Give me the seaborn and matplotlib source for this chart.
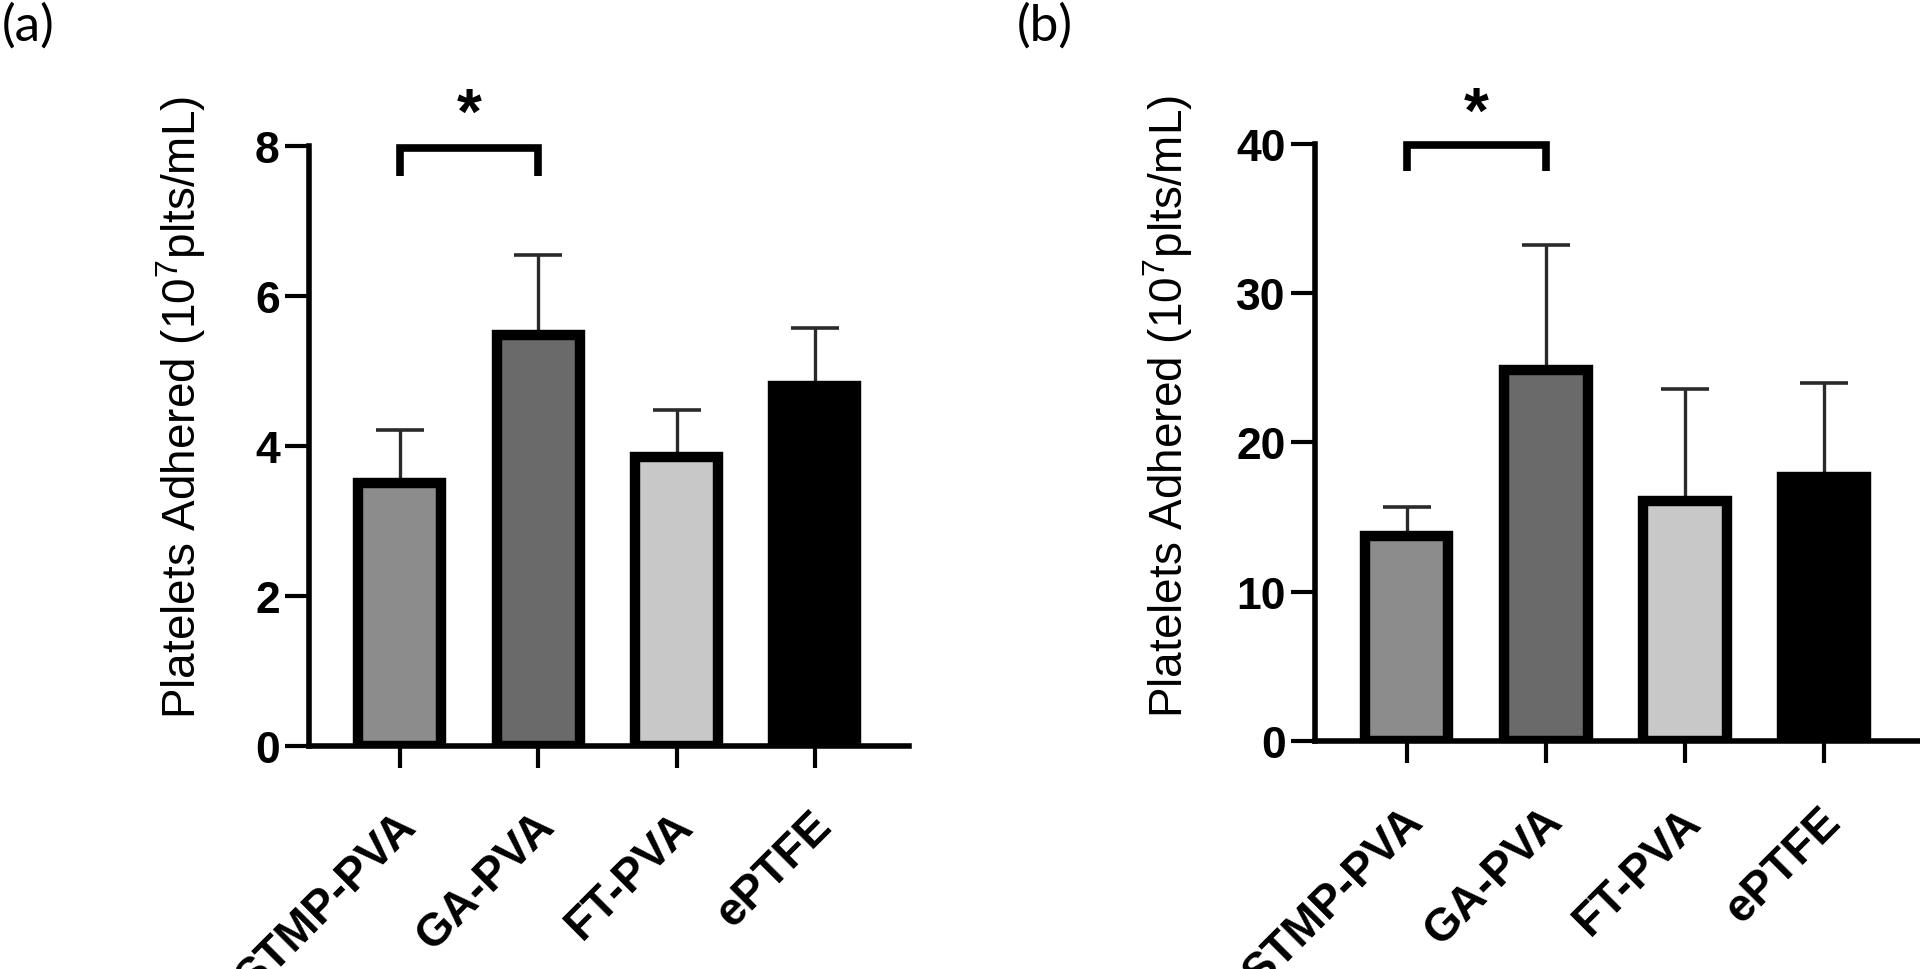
import matplotlib
matplotlib.use("Agg")
import matplotlib.pyplot as plt
import matplotlib.transforms as mtransforms
import numpy as np
import seaborn as sns

# groups and bar colours (same for both panels)
groups = ["STMP-PVA", "GA-PVA", "FT-PVA", "ePTFE"]
bar_colors = ["#8c8c8c", "#6a6a6a", "#c8c8c8", "#000000"]

# panel (a): mean and SD (upper error only)
mean_a = [3.50, 5.47, 3.85, 4.80]
sd_a = [0.71, 1.07, 0.63, 0.77]
yticks_a = [0, 2, 4, 6, 8]

# panel (b)
mean_b = [13.7, 24.85, 16.1, 17.7]
sd_b = [2.0, 8.35, 7.5, 6.3]
yticks_b = [0, 10, 20, 30, 40]

ylabel = "Platelets Adhered (10$^{7}$plts/mL)"

sns.set_style("ticks")
plt.rcParams["font.family"] = ["Liberation Sans", "DejaVu Sans"]
plt.rcParams["mathtext.fontset"] = "custom"
plt.rcParams["mathtext.rm"] = "Liberation Sans"
plt.rcParams["mathtext.it"] = "Liberation Sans:italic"
plt.rcParams["mathtext.bf"] = "Liberation Sans:bold"
plt.rcParams["text.color"] = "black"
plt.rcParams["axes.labelcolor"] = "black"
plt.rcParams["xtick.color"] = "black"
plt.rcParams["ytick.color"] = "black"

fig = plt.figure(figsize=(19.2, 9.7), dpi=100)


def draw_panel(ax, means, sds, yticks, xlim, label_xy, bracket, star_y):
    sns.barplot(x=groups, y=means, hue=groups, palette=bar_colors, width=0.6,
                edgecolor="black", linewidth=7.5, legend=False, ax=ax)
    ax.errorbar(x=np.arange(len(groups)), y=means,
                yerr=[np.zeros(len(sds)), sds], fmt="none", ecolor="#2a2a2a",
                elinewidth=2.4, capsize=17, capthick=2.6, zorder=0.5)

    ax.set_ylim(yticks[0], yticks[-1])
    ax.set_yticks(yticks)
    ax.set_xlim(*xlim)
    ax.set_xlabel("")

    for side in ["top", "right"]:
        ax.spines[side].set_visible(False)
    for side in ["left", "bottom"]:
        ax.spines[side].set_linewidth(4)
        ax.spines[side].set_color("black")

    ax.tick_params(axis="y", length=17, width=3, labelsize=32, pad=4)
    ax.tick_params(axis="x", length=15.5, width=3, labelsize=33, pad=26)
    for lbl in ax.get_yticklabels():
        lbl.set_fontweight("bold")
    offset = mtransforms.ScaledTranslation(-0.06, 0, fig.dpi_scale_trans)
    for lbl in ax.get_xticklabels():
        lbl.set_fontweight("bold")
        lbl.set_rotation(45)
        lbl.set_ha("right")
        lbl.set_va("top")
        lbl.set_rotation_mode("anchor")
        lbl.set_transform(lbl.get_transform() + offset)

    ax.set_ylabel(ylabel, fontsize=33)
    ax.yaxis.set_label_coords(*label_xy)

    # significance bracket between STMP-PVA and GA-PVA
    leg, top = bracket
    ax.plot([0, 0, 1, 1], [leg, top, top, leg], color="black", lw=5.5,
            clip_on=False, solid_joinstyle="miter", solid_capstyle="butt")
    ax.text(0.5, star_y, "*", ha="center", va="baseline", fontsize=46,
            fontweight="bold", clip_on=False)


ax_a = fig.add_axes([0.1609, 0.2302, 0.3125, 0.6186])
draw_panel(ax_a, mean_a, sd_a, yticks_a, (-0.658, 3.68), (-0.168, 0.566),
           (7.59, 7.97), 8.17)

ax_b = fig.add_axes([0.6849, 0.2351, 0.3151, 0.6157])
draw_panel(ax_b, mean_b, sd_b, yticks_b, (-0.659, 3.69), (-0.198, 0.561),
           (38.2, 39.9), 40.8)

fig.text(0.001, 0.997, "(a)", fontsize=37, family=["Lato", "DejaVu Sans"],
         ha="left", va="top")
fig.text(1017 / 1920, 0.997, "(b)", fontsize=37, family=["Lato", "DejaVu Sans"],
         ha="left", va="top")

fig.savefig("out.png", dpi=100, facecolor="white")
